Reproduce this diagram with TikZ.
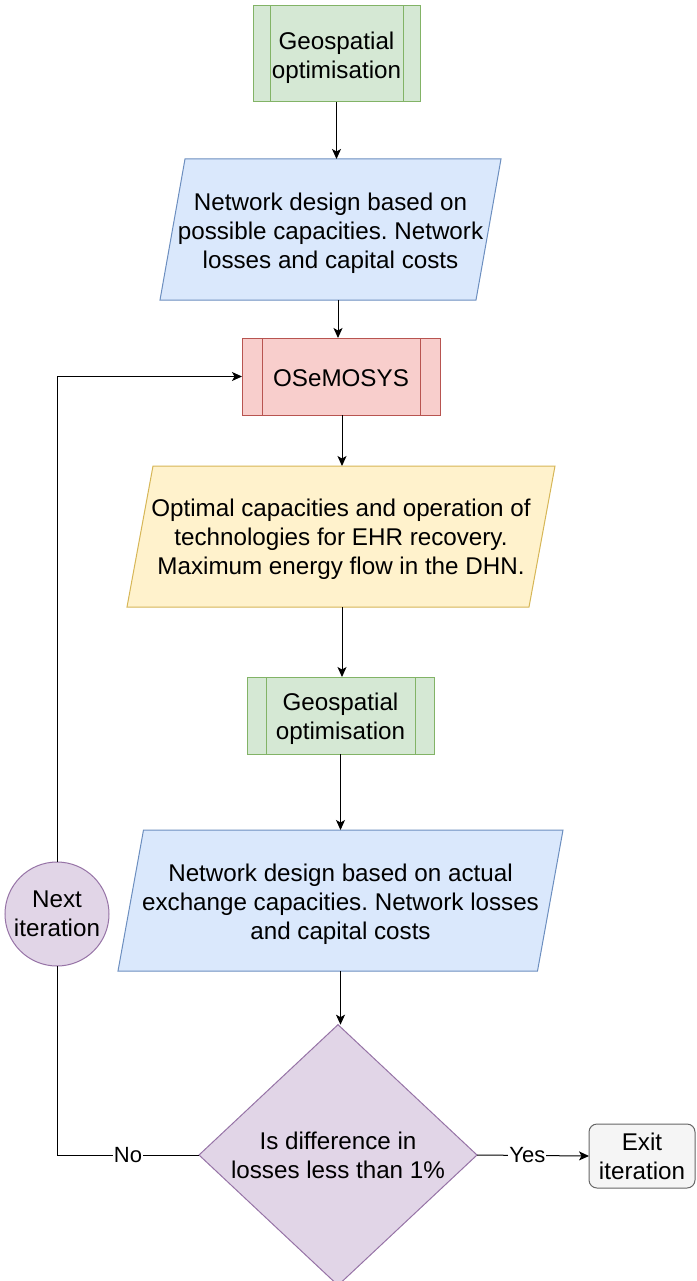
\documentclass[tikz,border=0pt]{standalone}
\usepackage{fontspec}
\setmainfont{Liberation Sans}
\frenchspacing
\usetikzlibrary{shapes.geometric,arrows.meta,calc,backgrounds}
\definecolor{gfill}{HTML}{D5E8D4}
\definecolor{gstroke}{HTML}{82B366}
\definecolor{rfill}{HTML}{F8CECC}
\definecolor{rstroke}{HTML}{B85450}
\definecolor{bfill}{HTML}{DAE8FC}
\definecolor{bstroke}{HTML}{6C8EBF}
\definecolor{yfill}{HTML}{FFF2CC}
\definecolor{ystroke}{HTML}{D6B656}
\definecolor{pfill}{HTML}{E1D5E7}
\definecolor{pstroke}{HTML}{9673A6}
\definecolor{xfill}{HTML}{F5F5F5}
\definecolor{xstroke}{HTML}{666666}
\begin{document}
\frenchspacing
\begin{tikzpicture}[x=1pt,y=-1pt,
  every node/.style={font=\fontsize{24.2}{29}\selectfont, align=center, inner sep=0pt, outer sep=0pt},
  subproc/.style n args={3}{rectangle, draw=#1, fill=#2, line width=1pt,
    path picture={
      \draw[#1, line width=1pt] ([xshift=#3]path picture bounding box.north west) -- ([xshift=#3]path picture bounding box.south west);
      \draw[#1, line width=1pt] ([xshift=-#3]path picture bounding box.north east) -- ([xshift=-#3]path picture bounding box.south east);
    }},
  parabox/.style={rectangle},
  parashape/.style={line width=1pt},
  txt/.style={},
  arr/.style={-{Stealth[length=10pt,width=9pt,inset=2.5pt]}, line width=1pt},
  plain/.style={line width=1pt},
  lbl/.style={fill=white, inner sep=1pt, font=\fontsize{22}{26}\selectfont}
]
\useasboundingbox (0,0) rectangle (696,1281);
\clip (0,0) rectangle (696,1281);

% shape nodes
\node[subproc={gstroke}{gfill}{17pt}, minimum width=167pt, minimum height=96pt] (g1) at (336.5,54) {};
\node[parabox, minimum width=341pt, minimum height=141pt] (p1) at (330.5,229.5) {};
\node[subproc={rstroke}{rfill}{20pt}, minimum width=198pt, minimum height=77pt] (o1) at (341,376.5) {};
\node[parabox, minimum width=428pt, minimum height=141pt] (y1) at (341,536.5) {};
\node[subproc={gstroke}{gfill}{19pt}, minimum width=187pt, minimum height=77pt] (g2) at (340.5,715.5) {};
\node[parabox, minimum width=445pt, minimum height=141pt] (p2) at (340.5,900.5) {};
\node[diamond, draw=pstroke, fill=pfill, line width=1pt, minimum width=278pt, minimum height=254pt] (d1) at (338,1155) {Is difference in\\losses less than 1\%};
\node[circle, draw=pstroke, fill=pfill, line width=1pt, minimum size=104pt] (c1) at (57,914) {Next\\iteration};
\node[rectangle, rounded corners=8pt, draw=xstroke, fill=xfill, line width=1pt, minimum width=106pt, minimum height=64pt] (e1) at (642,1156) {Exit\\iteration};

% parallelogram shapes
\begin{scope}[on background layer]
\draw[parashape, draw=bstroke, fill=bfill] ($(p1.north west)+(25,0)$) -- (p1.north east) -- ($(p1.south east)+(-25,0)$) -- (p1.south west) -- cycle;
\draw[parashape, draw=ystroke, fill=yfill] ($(y1.north west)+(26,0)$) -- (y1.north east) -- ($(y1.south east)+(-26,0)$) -- (y1.south west) -- cycle;
\draw[parashape, draw=bstroke, fill=bfill] ($(p2.north west)+(25.5,0)$) -- (p2.north east) -- ($(p2.south east)+(-25.5,0)$) -- (p2.south west) -- cycle;
\end{scope}

% texts
\node[txt] (g1t) at ([yshift=-4pt]g1.center) {Geospatial\\optimisation};
\node[txt] (p1t) at ([yshift=-4pt]p1.center) {Network design based on\\possible capacities. Network\\losses and capital costs};
\node[txt] (o1t) at ([yshift=-2pt]o1.center) {OSeMOSYS};
\node[txt] (y1t) at ([yshift=-3pt]y1.center) {Optimal capacities and operation of\\technologies for EHR recovery.\\Maximum energy flow in the DHN.};
\node[txt] (g2t) at ([yshift=-3.5pt]g2.center) {Geospatial\\optimisation};
\node[txt] (p2t) at ([yshift=-4pt]p2.center) {Network design based on actual\\exchange capacities. Network losses\\and capital costs};

% connectors
\draw[arr] (g1.south) -- (g1.south |- p1.north);
\draw[arr] ([xshift=7.5pt]p1.south) -- ([xshift=7.5pt]p1.south |- o1.north);
\draw[arr] ([xshift=1pt]o1.south) -- ([xshift=1pt]o1.south |- y1.north);
\draw[arr] ([xshift=1pt]y1.south) -- ([xshift=1pt]y1.south |- g2.north);
\draw[arr] (g2.south) -- (p2.north);
\draw[arr] (p2.south) -- (p2.south |- d1.north);
\draw[plain] (d1.west) -| node[lbl, pos=0.25] {No} (c1.south);
\draw[arr] (c1.north) |- (o1.west);
\draw[arr] (d1.east) -- node[lbl, pos=0.45] {Yes} (e1.west);
\end{tikzpicture}
\end{document}
